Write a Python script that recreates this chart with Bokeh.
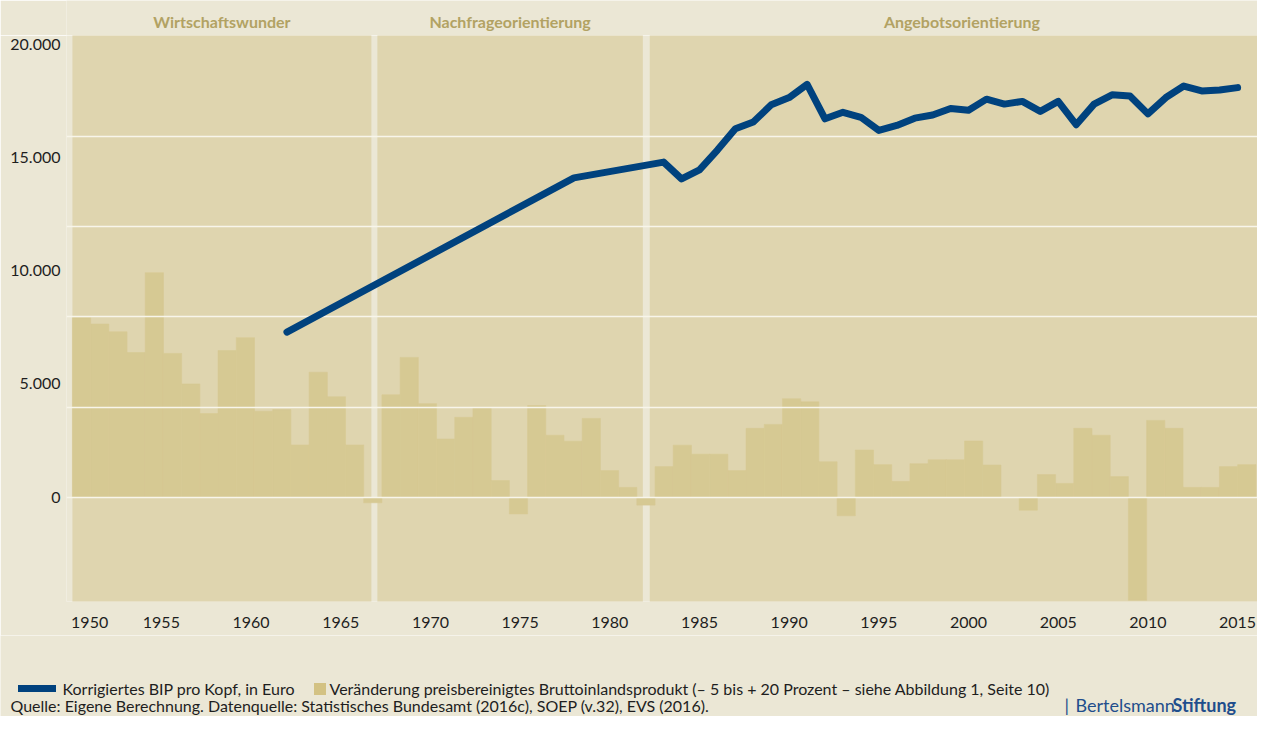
from bokeh.plotting import figure
from bokeh.layouts import column
from bokeh.models import Range1d, LinearAxis, FixedTicker, Grid, Label, Legend, LegendItem
from bokeh.core.properties import value
from bokeh.embed import file_html
from bokeh.resources import INLINE

# ---------------- data ----------------
# Veränderung preisbereinigtes BIP (Prozent), 1951-2015
bar_years = list(range(1951, 2016))
gdp_growth = [9.96, 9.61, 9.18, 8.03, 12.45, 7.98, 6.29, 4.65, 8.14, 8.85, 4.78, 4.87, 2.91, 6.94, 5.58, 2.91, -0.29,
              5.69, 7.76, 5.20, 3.24, 4.44, 4.98, 0.94, -0.91, 5.09, 3.45, 3.12, 4.38, 1.49, 0.56, -0.42,
              1.71, 2.90, 2.40, 2.40, 1.49, 3.83, 4.05, 5.47, 5.30, 1.98, -1.01, 2.63, 1.82, 0.89, 1.87, 2.09, 2.09,
              3.13, 1.80, 0.00, -0.70, 1.27, 0.78, 3.83, 3.45, 1.16, -5.69, 4.27, 3.83, 0.56, 0.56, 1.71, 1.82]

# Korrigiertes BIP pro Kopf, in Euro
bip_years = [1962, 1978] + list(range(1983, 2016))
bip_values = [7290, 14100,
              14800, 14060, 14460, 15330, 16270, 16570, 17330, 17650, 18230, 16710, 17000, 16780, 16200,
              16420, 16740, 16880, 17170, 17090, 17580, 17360, 17480, 17040, 17480, 16450, 17360, 17770,
              17720, 16930, 17650, 18160, 17940, 17980, 18090]

periods = ["Wirtschaftswunder", "Nachfrageorientierung", "Angebotsorientierung"]
period_start = [1951, 1967.75, 1982.71]
period_end = [1967.42, 1982.33, 2017]

x_tick_labels = ["1950", "1955", "1960", "1965", "1970", "1975", "1980", "1985",
                 "1990", "1995", "2000", "2005", "2010", "2015"]
y_tick_values = [0, 5000, 10000, 15000, 20000]
y_tick_labels = ["0", "5.000", "10.000", "15.000", "20.000"]
grid_pct = [0, 5, 10, 15, 20]

legend_line = "Korrigiertes BIP pro Kopf, in Euro"
legend_bar = "Veränderung preisbereinigtes Bruttoinlandsprodukt (– 5 bis + 20 Prozent – siehe Abbildung 1, Seite 10)"
source = "Quelle: Eigene Berechnung. Datenquelle: Statistisches Bundesamt (2016c), SOEP (v.32), EVS (2016)."

# ---------------- style ----------------
PAGE = "#ebe7d5"
PANEL = "#dfd5af"
BAR = "#d6c993"
SQUARE = "#d3c283"
LINE = "#00427e"
HEAD = "#b2a263"
TEXT = "#1e1e1e"
GRID = "#f8f5ea"
LOGO = "#1f4e8c"
FONT = "Lato"
FS = "16px"

W = 1257
HEAD_H = 35
FRAME_H = 566
AXIS_H = 34
FOOT_H = 81
LEFT = 66

bars_range = Range1d(1950.675, 2016.09)


def style(fig):
    fig.background_fill_color = PAGE
    fig.border_fill_color = PAGE
    fig.outline_line_color = None
    for g in fig.grid:
        g.visible = False


# ---------------- header ----------------
head = figure(width=W, height=HEAD_H, output_backend="svg", toolbar_location=None,
              x_range=bars_range, y_range=Range1d(0, HEAD_H),
              x_axis_location=None, y_axis_location=None,
              min_border_left=LEFT, min_border_right=0, min_border_top=0, min_border_bottom=0)
style(head)
head_x = [(s + e) / 2 for s, e in zip(period_start, period_end)]
head.text(x=head_x, y=[14] * len(periods), text=periods, text_align="center", text_baseline="middle",
          text_font=value(FONT), text_font_style="bold", text_font_size=FS, text_color=HEAD)

# ---------------- main chart ----------------
p = figure(width=W, height=FRAME_H + AXIS_H, output_backend="svg", toolbar_location=None,
           x_range=Range1d(1949.71, 2016.11), y_range=Range1d(-5.76, 25.59),
           y_axis_location=None,
           min_border_left=LEFT, min_border_right=0, min_border_top=0, min_border_bottom=AXIS_H)
p.extra_x_ranges = {"bars": bars_range}
p.extra_y_ranges = {"eur": Range1d(-4609, 20391)}
style(p)

panels = p.quad(left=period_start, right=period_end, bottom=-20, top=40, x_range_name="bars",
                fill_color=PANEL, line_color=None)
panels.level = "image"

bars_right = [y + 1 for y in bar_years]
bars = p.quad(left=bar_years, right=bars_right, bottom=0, top=gdp_growth, x_range_name="bars",
              fill_color=BAR, line_color=BAR, line_width=0.6)
bars.level = "image"

p.add_layout(Grid(dimension=1, ticker=FixedTicker(ticks=grid_pct),
                  grid_line_color=GRID, grid_line_width=1.5))

line = p.line(bip_years, bip_values, y_range_name="eur", line_color=LINE, line_width=7,
              line_cap="round", line_join="round")

x_positions = [int(t) for t in x_tick_labels]
x_positions[0] = 1951  # first label nudged right as in the original
xa = p.xaxis[0]
xa.ticker = FixedTicker(ticks=x_positions)
xa.major_label_overrides = {pos: lab for pos, lab in zip(x_positions, x_tick_labels)}
xa.axis_line_color = None
xa.major_tick_line_color = None
xa.minor_tick_line_color = None
xa.major_tick_out = 0
xa.major_tick_in = 0
xa.minor_tick_out = 0
xa.major_label_standoff = 15
xa.major_label_text_font = FONT
xa.major_label_text_font_size = FS
xa.major_label_text_color = TEXT

ya = LinearAxis(y_range_name="eur", ticker=FixedTicker(ticks=y_tick_values),
                major_label_overrides={v: l for v, l in zip(y_tick_values, y_tick_labels)},
                axis_line_color=None, major_tick_line_color=None, minor_tick_line_color=None,
                major_tick_out=0, major_tick_in=0, minor_tick_out=0,
                major_label_standoff=6, major_label_text_font=FONT,
                major_label_text_font_size=FS, major_label_text_color=TEXT)
p.add_layout(ya, "left")

# ---------------- footer (legend, source, logo) ----------------
foot = figure(width=W, height=FOOT_H, output_backend="svg", toolbar_location=None,
              x_range=Range1d(0, W), y_range=Range1d(0, FOOT_H),
              x_axis_location=None, y_axis_location=None, frame_align=False,
              min_border_left=0, min_border_right=0, min_border_top=0, min_border_bottom=0)
style(foot)
# legend keys: styled stand-ins kept outside the visible range
key_line = foot.line(x=[-20, -10], y=[-20, -20], line_color=LINE, line_width=7, line_cap="round")
key_bar = foot.quad(left=[-20], right=[-10], bottom=[-20], top=[-10], fill_color=SQUARE, line_color=None)

common = dict(padding=0, margin=0, spacing=0, border_line_color=None, background_fill_alpha=0,
              label_text_font=FONT, label_text_font_size=FS, label_text_color=TEXT,
              label_height=20)
leg1 = Legend(items=[LegendItem(label=legend_line, renderers=[key_line])], location=(17.5, 18),
              glyph_width=38, glyph_height=20, label_standoff=7, **common)
leg2 = Legend(items=[LegendItem(label=legend_bar, renderers=[key_bar])], location=(311.5, 18),
              glyph_width=15, glyph_height=15, label_standoff=3, **common)
foot.add_layout(leg1)
foot.add_layout(leg2)

foot.add_layout(Label(x=10, y=11, x_units="screen", y_units="screen", text=source,
                      text_baseline="middle", text_font=FONT, text_font_size=FS, text_color=TEXT))
foot.add_layout(Label(x=1064, y=12, x_units="screen", y_units="screen", text="|",
                      text_baseline="middle", text_font=FONT, text_font_size="18px", text_color=LOGO))
foot.add_layout(Label(x=1075, y=12, x_units="screen", y_units="screen", text="Bertelsmann",
                      text_baseline="middle", text_font=FONT, text_font_size="18px", text_color=LOGO))
foot.add_layout(Label(x=1172, y=12, x_units="screen", y_units="screen", text="Stiftung",
                      text_baseline="middle", text_font=FONT, text_font_style="bold",
                      text_font_size="18px", text_color=LOGO))

layout = column(head, p, foot, spacing=0)
open("out.html", "w").write(file_html(layout, INLINE))
